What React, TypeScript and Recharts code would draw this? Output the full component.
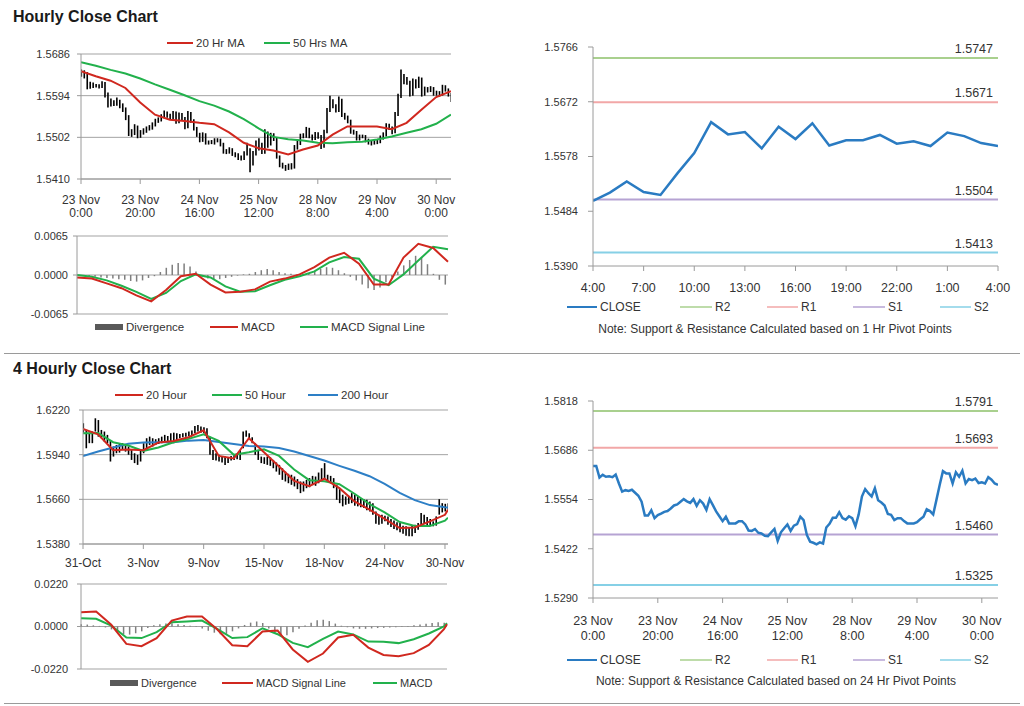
import React from 'react';
import { ComposedChart, LineChart, Line, Bar, XAxis, YAxis, CartesianGrid, ReferenceLine } from 'recharts';

const FONT = '"Liberation Sans", Arial, Helvetica, sans-serif';
const TXT = '#333333';
const AXIS = '#9a9a9a';
const GRID = '#a3a3a3';
const RED = '#d0281f';
const GREEN = '#22b14c';
const BLUE = '#2d7fc6';
const CLOSE_BLUE = '#2a7bc2';
const R2C = '#a9d08e';
const R1C = '#f2a7a7';
const S1C = '#b6a3d3';
const S2C = '#86d0e6';
const DIVC = '#7f7f7f';

// ---------- Hourly data: 23 Nov 0:00 .. 30 Nov (126 hours) ----------
const hourlyClose = [
  1.5644, 1.5644, 1.5613, 1.5620, 1.5615, 1.5616, 1.5614, 1.5621, 1.5597, 1.5575,
  1.5579, 1.5577, 1.5580, 1.5572, 1.5564, 1.5548, 1.5511, 1.5511, 1.5525, 1.5504,
  1.5512, 1.5516, 1.5521, 1.5523, 1.5530, 1.5538, 1.5541, 1.5548, 1.5555, 1.5549,
  1.5545, 1.5555, 1.5537, 1.5552, 1.5543, 1.5526, 1.5555, 1.5539, 1.5522, 1.5509,
  1.5496, 1.5508, 1.5490, 1.5490, 1.5490, 1.5496, 1.5496, 1.5487, 1.5471, 1.5470,
  1.5475, 1.5465, 1.5463, 1.5457, 1.5456, 1.5466, 1.5475, 1.5443, 1.5466, 1.5477,
  1.5487, 1.5470, 1.5484, 1.5488, 1.5508, 1.5499, 1.5459, 1.5441, 1.5438, 1.5434,
  1.5439, 1.5436, 1.5479, 1.5489, 1.5505, 1.5505, 1.5520, 1.5504, 1.5500, 1.5509,
  1.5504, 1.5482, 1.5514, 1.5562, 1.5582, 1.5571, 1.5562, 1.5584, 1.5552, 1.5546,
  1.5538, 1.5515, 1.5513, 1.5499, 1.5504, 1.5504, 1.5496, 1.5490, 1.5490, 1.5490,
  1.5493, 1.5501, 1.5508, 1.5528, 1.5523, 1.5514, 1.5553, 1.5593, 1.5630, 1.5624,
  1.5624, 1.5597, 1.5627, 1.5615, 1.5631, 1.5597, 1.5609, 1.5606, 1.5610, 1.5598,
  1.5600, 1.5597, 1.5614, 1.5607, 1.5597, 1.5593,
];
const hourlyHigh = [
  1.5652, 1.5650, 1.5646, 1.5625, 1.5623, 1.5620, 1.5619, 1.5626, 1.5624, 1.5601,
  1.5588, 1.5584, 1.5590, 1.5585, 1.5577, 1.5568, 1.5551, 1.5520, 1.5531, 1.5528,
  1.5518, 1.5522, 1.5526, 1.5529, 1.5535, 1.5543, 1.5546, 1.5553, 1.5561, 1.5559,
  1.5554, 1.5560, 1.5559, 1.5557, 1.5556, 1.5547, 1.5560, 1.5558, 1.5542, 1.5525,
  1.5512, 1.5513, 1.5511, 1.5495, 1.5496, 1.5500, 1.5500, 1.5499, 1.5490, 1.5476,
  1.5480, 1.5478, 1.5469, 1.5467, 1.5462, 1.5471, 1.5490, 1.5478, 1.5472, 1.5495,
  1.5500, 1.5490, 1.5520, 1.5515, 1.5512, 1.5511, 1.5502, 1.5462, 1.5446, 1.5441,
  1.5444, 1.5445, 1.5485, 1.5495, 1.5510, 1.5511, 1.5525, 1.5523, 1.5508, 1.5514,
  1.5513, 1.5507, 1.5519, 1.5567, 1.5594, 1.5586, 1.5575, 1.5592, 1.5587, 1.5556,
  1.5550, 1.5541, 1.5519, 1.5516, 1.5508, 1.5508, 1.5507, 1.5499, 1.5494, 1.5496,
  1.5498, 1.5506, 1.5513, 1.5533, 1.5532, 1.5526, 1.5558, 1.5598, 1.5652, 1.5642,
  1.5635, 1.5627, 1.5632, 1.5630, 1.5636, 1.5634, 1.5614, 1.5613, 1.5615, 1.5613,
  1.5605, 1.5604, 1.5618, 1.5617, 1.5610, 1.5600,
];
const hourlyLow = [
  1.5636, 1.5632, 1.5608, 1.5609, 1.5611, 1.5612, 1.5610, 1.5611, 1.5590, 1.5568,
  1.5570, 1.5571, 1.5572, 1.5566, 1.5558, 1.5540, 1.5505, 1.5503, 1.5507, 1.5500,
  1.5501, 1.5508, 1.5512, 1.5517, 1.5519, 1.5526, 1.5534, 1.5537, 1.5544, 1.5545,
  1.5540, 1.5541, 1.5532, 1.5533, 1.5538, 1.5520, 1.5522, 1.5534, 1.5517, 1.5503,
  1.5491, 1.5492, 1.5486, 1.5486, 1.5487, 1.5486, 1.5491, 1.5482, 1.5466, 1.5465,
  1.5466, 1.5461, 1.5458, 1.5452, 1.5451, 1.5452, 1.5462, 1.5425, 1.5440, 1.5462,
  1.5473, 1.5465, 1.5466, 1.5479, 1.5484, 1.5494, 1.5455, 1.5436, 1.5433, 1.5428,
  1.5430, 1.5431, 1.5433, 1.5475, 1.5485, 1.5500, 1.5501, 1.5500, 1.5495, 1.5496,
  1.5499, 1.5476, 1.5479, 1.5511, 1.5558, 1.5566, 1.5557, 1.5558, 1.5547, 1.5541,
  1.5533, 1.5510, 1.5508, 1.5495, 1.5495, 1.5500, 1.5491, 1.5486, 1.5484, 1.5486,
  1.5487, 1.5489, 1.5497, 1.5504, 1.5518, 1.5509, 1.5511, 1.5549, 1.5589, 1.5619,
  1.5618, 1.5592, 1.5594, 1.5610, 1.5611, 1.5592, 1.5594, 1.5601, 1.5602, 1.5594,
  1.5594, 1.5592, 1.5594, 1.5603, 1.5592, 1.5580,
];
// moving averages read every 5 hours
const hourlyMaHours = [0, 5, 10, 15, 20, 25, 30, 35, 40, 45, 50, 55, 60, 65, 70, 75, 80, 85, 90, 95, 100, 105, 110, 115, 120, 125];
const hourlyMa20 = [
  1.5648, 1.5637, 1.5627, 1.5611, 1.5579, 1.5552, 1.5541, 1.5538, 1.5534, 1.5531,
  1.5513, 1.5490, 1.5478, 1.5473, 1.5464, 1.5475, 1.5484, 1.5508, 1.5526, 1.5526,
  1.5526, 1.5520, 1.5534, 1.5563, 1.5591, 1.5604,
];
const hourlyMa50 = [
  1.5668, 1.5660, 1.5651, 1.5643, 1.5632, 1.5619, 1.5607, 1.5595, 1.5582, 1.5572,
  1.5559, 1.5542, 1.5522, 1.5503, 1.5498, 1.5495, 1.5490, 1.5489, 1.5491, 1.5492,
  1.5497, 1.5504, 1.5512, 1.5520, 1.5532, 1.5552,
];
const hourlyMacd = [
  -0.0004, -0.0006, -0.0014, -0.0022, -0.0034, -0.0044, -0.0025, -0.0002, 0.0002, -0.0016,
  -0.0029, -0.0028, -0.0024, -0.0011, -0.0006, 0.0001, 0.0013, 0.0029, 0.0037, 0.0019,
  -0.0016, -0.0016, 0.0029, 0.0052, 0.0045, 0.0022,
];
const hourlySignal = [
  0.0000, -0.0003, -0.0009, -0.0018, -0.0028, -0.0040, -0.0030, -0.0010, 0.0001, -0.0004,
  -0.0019, -0.0028, -0.0027, -0.0017, -0.0008, -0.0002, 0.0006, 0.0021, 0.0030, 0.0027,
  -0.0006, -0.0017, 0.0001, 0.0024, 0.0047, 0.0043,
];
// divergence read every 2 hours (0..124)
const hourlyDivergence = [
  0.0000, -0.0001, -0.0002, -0.0003, -0.0004, -0.0005, -0.0006, -0.0007, -0.0008, -0.0010,
  -0.0011, -0.0009, -0.0005, -0.0002, 0.0005, 0.0012, 0.0017, 0.0020, 0.0019, 0.0014,
  0.0006, -0.0002, -0.0006, -0.0008, -0.0007, -0.0005, -0.0003, -0.0001, 0.0001, 0.0002,
  0.0005, 0.0008, 0.0010, 0.0008, 0.0005, 0.0003, 0.0002, 0.0001, 0.0002, 0.0003,
  0.0006, 0.0010, 0.0013, 0.0012, 0.0008, 0.0003, -0.0003, -0.0009, -0.0016, -0.0022,
  -0.0025, -0.0021, -0.0012, -0.0004, 0.0006, 0.0016, 0.0025, 0.0032, 0.0030, 0.0018,
  0.0002, -0.0008, -0.0016,
];
const hourlyTickHours = [0, 20, 40, 60, 80, 100, 120];
const hourlyTickLabels = [
  ['23 Nov', '0:00'], ['23 Nov', '20:00'], ['24 Nov', '16:00'], ['25 Nov', '12:00'],
  ['28 Nov', '8:00'], ['29 Nov', '4:00'], ['30 Nov', '0:00'],
];
const hourlyPriceTicks = [1.5410, 1.5502, 1.5594, 1.5686];
const hourlyMacdTicks = [-0.0065, 0, 0.0065];

// ---------- 1 hr pivot chart (4:00 .. 4:00) ----------
const pivot1hClose = [
  1.5502, 1.5516, 1.5535, 1.5517, 1.5512, 1.5549, 1.5584, 1.5637, 1.5616, 1.5620,
  1.5592, 1.5629, 1.5608, 1.5635, 1.5597, 1.5606, 1.5606, 1.5615, 1.5600, 1.5604,
  1.5596, 1.5619, 1.5613, 1.5601, 1.5596,
];
const pivot1hTickIdx = [0, 3, 6, 9, 12, 15, 18, 21, 24];
const pivot1hTickLabels = ['4:00', '7:00', '10:00', '13:00', '16:00', '19:00', '22:00', '1:00', '4:00'];
const pivot1hTicks = [1.5390, 1.5484, 1.5578, 1.5672, 1.5766];
const pivot1hLevels = [1.5747, 1.5671, 1.5504, 1.5413]; // R2 R1 S1 S2

// ---------- 24 hr pivot chart ----------
const pivot24hTicks = [1.5290, 1.5422, 1.5554, 1.5686, 1.5818];
const pivot24hLevels = [1.5791, 1.5693, 1.5460, 1.5325]; // R2 R1 S1 S2
const levelNames = ['R2', 'R1', 'S1', 'S2'];

// ---------- 4 hourly data: 31-Oct .. 30-Nov (122 bars) ----------
const fourHourHigh = [
  1.6137, 1.6095, 1.6074, 1.6085, 1.6168, 1.6157, 1.6095, 1.6085, 1.6064, 1.6032,
  1.5991, 1.6001, 1.6012, 1.6012, 1.6001, 1.5991, 1.5970, 1.5949, 1.5939, 1.5970,
  1.6012, 1.6043, 1.6053, 1.6043, 1.6037, 1.6043, 1.6053, 1.6064, 1.6057, 1.6074,
  1.6078, 1.6074, 1.6070, 1.6074, 1.6078, 1.6085, 1.6091, 1.6120, 1.6126, 1.6116,
  1.6112, 1.6105, 1.6053, 1.5970, 1.5949, 1.5939, 1.5932, 1.5928, 1.5924, 1.5932,
  1.5939, 1.5945, 1.5970, 1.6085, 1.6091, 1.6074, 1.6049, 1.6012, 1.5970, 1.5928,
  1.5924, 1.5928, 1.5924, 1.5907, 1.5891, 1.5876, 1.5855, 1.5834, 1.5820, 1.5814,
  1.5803, 1.5787, 1.5772, 1.5772, 1.5782, 1.5793, 1.5807, 1.5803, 1.5828, 1.5855,
  1.5887, 1.5814, 1.5807, 1.5793, 1.5751, 1.5730, 1.5689, 1.5678, 1.5682, 1.5699,
  1.5689, 1.5678, 1.5668, 1.5661, 1.5657, 1.5647, 1.5636, 1.5584, 1.5564, 1.5564,
  1.5557, 1.5553, 1.5536, 1.5528, 1.5516, 1.5511, 1.5495, 1.5491, 1.5480, 1.5495,
  1.5501, 1.5511, 1.5574, 1.5564, 1.5549, 1.5536, 1.5522, 1.5553, 1.5661, 1.5636,
  1.5632, 1.5636,
];
const fourHourLow = [
  1.6074, 1.5980, 1.6012, 1.6012, 1.6085, 1.6053, 1.6043, 1.6022, 1.6012, 1.5897,
  1.5928, 1.5949, 1.5953, 1.5970, 1.5959, 1.5939, 1.5907, 1.5887, 1.5876, 1.5897,
  1.5949, 1.5980, 1.6001, 1.5991, 1.6001, 1.6007, 1.6012, 1.6016, 1.6022, 1.6016,
  1.6012, 1.6032, 1.6043, 1.6049, 1.6053, 1.6057, 1.6064, 1.6074, 1.6085, 1.6078,
  1.6074, 1.6043, 1.5939, 1.5907, 1.5903, 1.5897, 1.5891, 1.5876, 1.5887, 1.5903,
  1.5907, 1.5912, 1.5907, 1.5980, 1.6053, 1.6037, 1.6012, 1.5939, 1.5907, 1.5887,
  1.5882, 1.5876, 1.5870, 1.5855, 1.5834, 1.5814, 1.5782, 1.5772, 1.5761, 1.5751,
  1.5741, 1.5724, 1.5699, 1.5709, 1.5730, 1.5736, 1.5751, 1.5745, 1.5761, 1.5772,
  1.5782, 1.5772, 1.5761, 1.5730, 1.5657, 1.5636, 1.5616, 1.5626, 1.5632, 1.5636,
  1.5620, 1.5616, 1.5611, 1.5605, 1.5591, 1.5584, 1.5564, 1.5507, 1.5501, 1.5507,
  1.5522, 1.5501, 1.5486, 1.5474, 1.5466, 1.5453, 1.5445, 1.5432, 1.5428, 1.5428,
  1.5449, 1.5470, 1.5501, 1.5507, 1.5495, 1.5495, 1.5491, 1.5495, 1.5564, 1.5578,
  1.5584, 1.5595,
];
const fourHourMaIdx = [0, 5, 10, 15, 20, 25, 30, 35, 40, 45, 50, 55, 60, 65, 70, 75, 80, 85, 90, 95, 100, 105, 110, 115, 120, 121];
const fourHourMa20 = [
  1.6101, 1.6068, 1.5968, 1.5972, 1.5968, 1.6016, 1.6026, 1.6049, 1.6093, 1.5932,
  1.5916, 1.6043, 1.5955, 1.5866, 1.5776, 1.5743, 1.5789, 1.5730, 1.5647, 1.5595,
  1.5538, 1.5480, 1.5484, 1.5522, 1.5563, 1.5595,
];
const fourHourMa50 = [
  1.6074, 1.6076, 1.6018, 1.5997, 1.5964, 1.5985, 1.6018, 1.6039, 1.6068, 1.6026,
  1.5939, 1.5955, 1.5974, 1.5932, 1.5847, 1.5780, 1.5774, 1.5755, 1.5695, 1.5630,
  1.5578, 1.5518, 1.5493, 1.5493, 1.5526, 1.5545,
];
const fourHourMa200 = [
  1.5932, 1.5960, 1.5985, 1.6009, 1.6016, 1.6018, 1.6018, 1.6028, 1.6032, 1.6020,
  1.6007, 1.5995, 1.5991, 1.5982, 1.5960, 1.5932, 1.5903, 1.5870, 1.5839, 1.5805,
  1.5757, 1.5701, 1.5655, 1.5624, 1.5611, 1.5609,
];
const fourHourSignal = [
  0.0074, 0.0078, 0.0009, -0.0090, -0.0102, -0.0060, 0.0031, 0.0052, 0.0052, -0.0014,
  -0.0097, -0.0102, -0.0026, -0.0021, -0.0119, -0.0183, -0.0140, -0.0057, -0.0043, -0.0109,
  -0.0147, -0.0154, -0.0138, -0.0095, -0.0014, 0.0012,
];
const fourHourMacd = [
  0.0043, 0.0040, 0.0005, -0.0057, -0.0060, -0.0029, 0.0022, 0.0026, 0.0031, -0.0012,
  -0.0060, -0.0055, -0.0009, -0.0040, -0.0085, -0.0107, -0.0064, -0.0026, -0.0041, -0.0078,
  -0.0079, -0.0086, -0.0066, -0.0036, 0.0000, 0.0017,
];
// divergence read every 2 bars (0..120)
const fourHourDivergence = [
  0.0012, 0.0010, 0.0006, 0.0003, -0.0005, -0.0015, -0.0030, -0.0040, -0.0042, -0.0035,
  -0.0025, -0.0008, 0.0006, 0.0012, 0.0016, 0.0017, 0.0012, 0.0008, 0.0004, -0.0002,
  -0.0010, -0.0022, -0.0032, -0.0040, -0.0038, -0.0025, -0.0010, 0.0008, 0.0020, 0.0026,
  0.0018, -0.0010, -0.0035, -0.0050, -0.0045, -0.0030, -0.0012, 0.0005, 0.0020, 0.0032,
  0.0035, 0.0028, 0.0015, 0.0004, -0.0004, -0.0010, -0.0012, -0.0012, -0.0010, -0.0008,
  -0.0007, -0.0005, -0.0004, -0.0003, 0.0002, 0.0006, 0.0010, 0.0014, 0.0018, 0.0022,
  0.0020,
];
const fourHourTickIdx = [0, 20, 40, 60, 80, 100, 120];
const fourHourTickLabels = ['31-Oct', '3-Nov', '9-Nov', '15-Nov', '18-Nov', '24-Nov', '30-Nov'];
const fourHourPriceTicks = [1.5380, 1.5660, 1.5940, 1.6220];
const fourHourMacdTicks = [-0.0220, 0, 0.0220];

// ---------- rows built from the arrays ----------
type Row = Record<string, any>;
const hourlyRows: Row[] = hourlyClose.map((close, h) => ({ h, close, range: [hourlyLow[h], hourlyHigh[h]] }));
hourlyMaHours.forEach((h, k) => { hourlyRows[h].ma20 = hourlyMa20[k]; hourlyRows[h].ma50 = hourlyMa50[k]; });

const hourlyMacdRows: Row[] = hourlyClose.map((_, h) => ({ h }));
hourlyMaHours.forEach((h, k) => { hourlyMacdRows[h].macd = hourlyMacd[k]; hourlyMacdRows[h].signal = hourlySignal[k]; });
hourlyDivergence.forEach((v, k) => { hourlyMacdRows[k * 2].div = v; });

const pivotRows: Row[] = pivot1hClose.map((close, i) => ({ i, close }));

const fourHourRows: Row[] = fourHourHigh.map((hi, i) => ({ i, range: [fourHourLow[i], hi] }));
fourHourMaIdx.forEach((i, k) => {
  fourHourRows[i].ma20 = fourHourMa20[k];
  fourHourRows[i].ma50 = fourHourMa50[k];
  fourHourRows[i].ma200 = fourHourMa200[k];
});
const fourHourMacdRows: Row[] = fourHourHigh.map((_, i) => ({ i }));
fourHourMaIdx.forEach((i, k) => { fourHourMacdRows[i].macd = fourHourMacd[k]; fourHourMacdRows[i].signal = fourHourSignal[k]; });
fourHourDivergence.forEach((v, k) => { fourHourMacdRows[k * 2].div = v; });

const f4 = (v: number) => Number(v).toFixed(4);
const levelColors = [R2C, R1C, S1C, S2C];

function makeTick(values: number[], labels: (string | string[])[], fontSize: number, d1: number, d2: number) {
  return (props: any) => {
    const { x, y, payload } = props;
    const idx = values.indexOf(payload.value);
    if (idx < 0) return <g />;
    const lab = labels[idx];
    const lines = Array.isArray(lab) ? lab : [lab];
    return (
      <g>
        <text x={x} y={y + d1} textAnchor="middle" dominantBaseline="central" fontSize={fontSize} fill={TXT}>{lines[0]}</text>
        {lines[1] !== undefined && (
          <text x={x} y={y + d2} textAnchor="middle" dominantBaseline="central" fontSize={fontSize} fill={TXT}>{lines[1]}</text>
        )}
      </g>
    );
  };
}

const hourlyTick = makeTick(hourlyTickHours, hourlyTickLabels, 12, 16, 29);
const hourlyTickF = makeTick(hourlyTickHours, hourlyTickLabels, 12.5, 18, 33);
const pivotTick = makeTick(pivot1hTickIdx, pivot1hTickLabels, 12.5, 17, 0);
const fourHourTick = makeTick(fourHourTickIdx, fourHourTickLabels, 12, 14, 0);

const yTick = { fontSize: 11, fill: TXT };

function LegendLine({ x, y, w, color, label, sw = 2, fs = 12 }: any) {
  return (
    <g>
      <line x1={x} x2={x + w} y1={y} y2={y} stroke={color} strokeWidth={sw} />
      <text x={x + w + 3} y={y} dominantBaseline="central" fontSize={fs} fill={TXT}>{label}</text>
    </g>
  );
}
function LegendBox({ x, y, w, color, label, fs = 12 }: any) {
  return (
    <g>
      <rect x={x} y={y - 3} width={w} height={6} fill={color} />
      <text x={x + w + 3} y={y} dominantBaseline="central" fontSize={fs} fill={TXT}>{label}</text>
    </g>
  );
}

function PivotChart({ rows, dataKey, domain, ticks, levels, tick, xDomain, xTicks, height, xHeight, top }: any) {
  return (
    <LineChart width={514} height={height} data={rows} margin={{ top, right: 26, bottom: 0, left: 0 }}>
      <XAxis dataKey={dataKey} type="number" domain={xDomain} ticks={xTicks} interval={0} height={xHeight}
        stroke={AXIS} tickSize={5} tickMargin={0} tick={tick} allowDataOverflow />
      <YAxis type="number" domain={domain} ticks={ticks} width={83} interval={0} stroke={AXIS}
        tickSize={5} tickMargin={10} tickFormatter={f4} tick={yTick} allowDataOverflow />
      {levels.map((lv: number, k: number) => (
        <ReferenceLine key={levelNames[k]} y={lv} stroke={levelColors[k]} strokeWidth={2}
          label={{ value: f4(lv), position: 'insideBottomRight', offset: 5, fontSize: 12.5, fill: TXT }} />
      ))}
      <Line dataKey="close" stroke={CLOSE_BLUE} strokeWidth={2.5} dot={false} isAnimationActive={false} />
    </LineChart>
  );
}

function PivotLegend({ y }: { y: number }) {
  return (
    <g>
      <LegendLine x={567} y={y} w={30} color={CLOSE_BLUE} label="CLOSE" />
      <LegendLine x={680} y={y} w={32} color={R2C} label="R2" sw={1.5} />
      <LegendLine x={767} y={y} w={31} color={R1C} label="R1" sw={1.5} />
      <LegendLine x={853} y={y} w={32} color={S1C} label="S1" sw={1.5} />
      <LegendLine x={940} y={y} w={31} color={S2C} label="S2" sw={1.5} />
    </g>
  );
}

export default function App() {
  return (
    <div style={{ position: 'absolute', left: 0, top: 0, width: 1024, height: 706, background: '#fff', overflow: 'hidden', fontFamily: FONT }}>
      {/* Hourly price */}
      <div style={{ position: 'absolute', left: 0, top: 30 }}>
        <ComposedChart width={460} height={189} data={hourlyRows} margin={{ top: 24, right: 9, bottom: 0, left: 0 }}>
          <CartesianGrid vertical={false} stroke={GRID} />
          <XAxis dataKey="h" type="number" domain={[0, 125]} ticks={hourlyTickHours} interval={0} height={40}
            stroke={AXIS} tickSize={5} tickMargin={0} tick={hourlyTick} allowDataOverflow />
          <YAxis type="number" domain={[1.5410, 1.5686]} ticks={hourlyPriceTicks} interval={0} width={81}
            stroke={AXIS} tickSize={4} tickMargin={7} tickFormatter={f4} tick={yTick} allowDataOverflow />
          <Bar dataKey="range" fill="#000" barSize={1.6} isAnimationActive={false} />
          <Line dataKey="ma50" stroke={GREEN} strokeWidth={2} dot={false} connectNulls isAnimationActive={false} />
          <Line dataKey="ma20" stroke={RED} strokeWidth={2} dot={false} connectNulls isAnimationActive={false} />
        </ComposedChart>
      </div>
      {/* Hourly MACD */}
      <div style={{ position: 'absolute', left: 0, top: 226 }}>
        <ComposedChart width={460} height={100} data={hourlyMacdRows} margin={{ top: 10, right: 12, bottom: 12, left: 0 }}>
          <CartesianGrid vertical={false} stroke={GRID} />
          <XAxis dataKey="h" type="number" domain={[0, 125]} hide />
          <YAxis type="number" domain={[-0.0065, 0.0065]} ticks={hourlyMacdTicks} interval={0} width={77}
            stroke={AXIS} tickSize={4} tickMargin={5} tickFormatter={f4} tick={yTick} allowDataOverflow />
          <Bar dataKey="div" fill={DIVC} barSize={1.5} isAnimationActive={false} />
          <Line dataKey="signal" stroke={GREEN} strokeWidth={2} dot={false} connectNulls isAnimationActive={false} />
          <Line dataKey="macd" stroke={RED} strokeWidth={2} dot={false} connectNulls isAnimationActive={false} />
        </ComposedChart>
      </div>
      {/* 1 hr pivot */}
      <div style={{ position: 'absolute', left: 510, top: 30 }}>
        <PivotChart rows={pivotRows} dataKey="i" domain={[1.5390, 1.5766]} ticks={pivot1hTicks} levels={pivot1hLevels}
          tick={pivotTick} xDomain={[0, 24]} xTicks={pivot1hTickIdx} height={270} xHeight={34} top={17} />
      </div>
      {/* 4 hourly price */}
      <div style={{ position: 'absolute', left: 0, top: 385 }}>
        <ComposedChart width={480} height={189} data={fourHourRows} margin={{ top: 25, right: 32, bottom: 0, left: 0 }}>
          <CartesianGrid vertical={false} stroke={GRID} />
          <XAxis dataKey="i" type="number" domain={[0, 121]} ticks={fourHourTickIdx} interval={0} height={30}
            stroke={AXIS} tickSize={5} tickMargin={0} tick={fourHourTick} allowDataOverflow />
          <YAxis type="number" domain={[1.5380, 1.6220]} ticks={fourHourPriceTicks} interval={0} width={83}
            stroke={AXIS} tickSize={4} tickMargin={9} tickFormatter={f4} tick={yTick} allowDataOverflow />
          <Bar dataKey="range" fill="#000" barSize={1.6} isAnimationActive={false} />
          <Line dataKey="ma200" stroke={BLUE} strokeWidth={2} dot={false} connectNulls isAnimationActive={false} />
          <Line dataKey="ma50" stroke={GREEN} strokeWidth={2} dot={false} connectNulls isAnimationActive={false} />
          <Line dataKey="ma20" stroke={RED} strokeWidth={2} dot={false} connectNulls isAnimationActive={false} />
        </ComposedChart>
      </div>
      {/* 4 hourly MACD */}
      <div style={{ position: 'absolute', left: 0, top: 574 }}>
        <ComposedChart width={460} height={107} data={fourHourMacdRows} margin={{ top: 10, right: 13, bottom: 12, left: 0 }}>
          <CartesianGrid vertical={false} stroke={GRID} />
          <XAxis dataKey="i" type="number" domain={[0, 121]} hide />
          <YAxis type="number" domain={[-0.0220, 0.0220]} ticks={fourHourMacdTicks} interval={0} width={81}
            stroke={AXIS} tickSize={4} tickMargin={9} tickFormatter={f4} tick={yTick} allowDataOverflow />
          <Bar dataKey="div" fill={DIVC} barSize={1.5} isAnimationActive={false} />
          <Line dataKey="macd" stroke={GREEN} strokeWidth={2} dot={false} connectNulls isAnimationActive={false} />
          <Line dataKey="signal" stroke={RED} strokeWidth={2} dot={false} connectNulls isAnimationActive={false} />
        </ComposedChart>
      </div>
      {/* 24 hr pivot */}
      <div style={{ position: 'absolute', left: 510, top: 385 }}>
        <PivotChart rows={hourlyRows} dataKey="h" domain={[1.5290, 1.5818]} ticks={pivot24hTicks} levels={pivot24hLevels}
          tick={hourlyTickF} xDomain={[0, 125]} xTicks={hourlyTickHours} height={258} xHeight={45} top={16} />
      </div>

      {/* Titles, legends, notes, separators */}
      <svg width={1024} height={706} style={{ position: 'absolute', left: 0, top: 0, pointerEvents: 'none' }}>
        <text x={13} y={16} dominantBaseline="central" fontSize={16} fontWeight="bold" fill="#1a1a1a">Hourly Close Chart</text>
        <text x={13} y={368} dominantBaseline="central" fontSize={16} fontWeight="bold" fill="#1a1a1a">4 Hourly Close Chart</text>
        <line x1={4} x2={1020} y1={353.5} y2={353.5} stroke="#9a9a9a" strokeWidth={1} />
        <line x1={4} x2={1020} y1={703.5} y2={703.5} stroke="#9a9a9a" strokeWidth={1} />

        <LegendLine x={167} y={43} w={26} color={RED} label="20 Hr MA" fs={11.5} />
        <LegendLine x={264} y={43} w={26} color={GREEN} label="50 Hrs MA" fs={11.5} />

        <LegendBox x={95} y={327} w={28} color="#595959" label="Divergence" fs={11.5} />
        <LegendLine x={210} y={327} w={28} color={RED} label="MACD" fs={11.5} />
        <LegendLine x={300} y={327} w={28} color={GREEN} label="MACD Signal Line" fs={11.5} />

        <PivotLegend y={307} />
        <text x={775} y={329} textAnchor="middle" dominantBaseline="central" fontSize={12} fill={TXT}>Note: Support &amp; Resistance Calculated based on 1 Hr Pivot Points</text>

        <LegendLine x={115} y={395} w={28} color={RED} label="20 Hour" fs={11.5} />
        <LegendLine x={212} y={395} w={30} color={GREEN} label="50 Hour" fs={11.5} />
        <LegendLine x={308} y={395} w={30} color={BLUE} label="200 Hour" fs={11.5} />

        <LegendBox x={110} y={683} w={28} color="#595959" label="Divergence" fs={11} />
        <LegendLine x={222} y={683} w={31} color={RED} label="MACD Signal Line" fs={11} />
        <LegendLine x={373} y={683} w={24} color={GREEN} label="MACD" fs={11} />

        <PivotLegend y={660} />
        <text x={776} y={681} textAnchor="middle" dominantBaseline="central" fontSize={12} fill={TXT}>Note: Support &amp; Resistance Calculated based on 24 Hr Pivot Points</text>
      </svg>
    </div>
  );
}
